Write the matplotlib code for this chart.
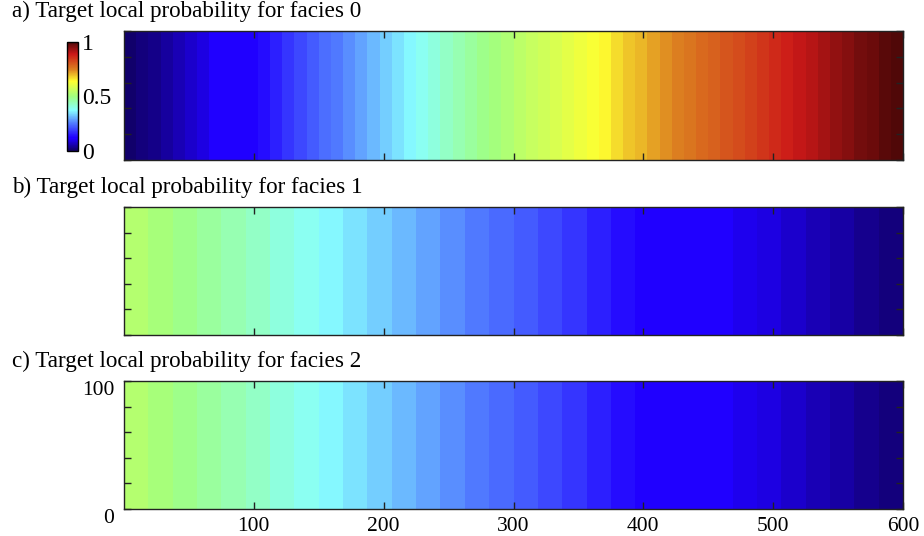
import numpy as np
import matplotlib
matplotlib.use('Agg')
import matplotlib.pyplot as plt
import matplotlib.transforms as mtransforms
from matplotlib.colors import LinearSegmentedColormap

plt.rcParams['font.family'] = ['Liberation Serif', 'DejaVu Serif']

# probability per column band (left to right)
facies0 = [0.01, 0.02, 0.03, 0.045, 0.06, 0.075, 0.09, 0.11, 0.115, 0.12, 0.125, 0.14,
           0.16, 0.18, 0.20, 0.22, 0.24, 0.25, 0.27, 0.29, 0.31, 0.33, 0.35, 0.37,
           0.39, 0.41, 0.43, 0.45, 0.47, 0.49, 0.505, 0.52, 0.54, 0.555, 0.57, 0.585,
           0.60, 0.615, 0.63, 0.645, 0.67, 0.69, 0.70, 0.72, 0.735, 0.75, 0.765, 0.78,
           0.79, 0.805, 0.82, 0.835, 0.85, 0.865, 0.88, 0.895, 0.91, 0.925, 0.94, 0.95,
           0.965, 0.975, 0.99, 1.0]
facies1 = [0.53, 0.51, 0.49, 0.47, 0.45, 0.43, 0.41, 0.39, 0.37, 0.35, 0.33, 0.31,
           0.29, 0.27, 0.25, 0.235, 0.22, 0.20, 0.18, 0.16, 0.14, 0.125, 0.12, 0.115,
           0.11, 0.10, 0.09, 0.075, 0.06, 0.05, 0.035, 0.02]
facies2 = [0.53, 0.51, 0.49, 0.47, 0.45, 0.43, 0.41, 0.39, 0.37, 0.35, 0.33, 0.31,
           0.29, 0.27, 0.25, 0.235, 0.22, 0.20, 0.18, 0.16, 0.14, 0.125, 0.12, 0.115,
           0.11, 0.10, 0.09, 0.075, 0.06, 0.05, 0.035, 0.02]
titles = ['a) Target local probability for facies 0',
          'b) Target local probability for facies 1',
          'c) Target local probability for facies 2']
xmax = 600
ymax = 100

# jet-like map
stops = [(0.0, '#100060'), (0.11, '#2000ff'), (0.125, '#2000ff'), (0.25, '#5078ff'),
         (0.375, '#88ffff'), (0.5, '#a0ff80'), (0.64, '#ffff30'), (0.75, '#dc8020'),
         (0.89, '#cc1818'), (1.0, '#500808')]
cmap = LinearSegmentedColormap.from_list('jetish', stops)

fig = plt.figure(figsize=(9.24, 5.36), dpi=100)
boxes = [[0.1342, 0.7015, 0.8431, 0.2407],
         [0.1342, 0.375, 0.8431, 0.2388],
         [0.1342, 0.0504, 0.8431, 0.2388]]
title_y = [0.978, 0.651, 0.325]

for i, vals in enumerate([facies0, facies1, facies2]):
    ax = fig.add_axes(boxes[i])
    edges = np.linspace(0, xmax, len(vals) + 1)
    z = np.array(vals)[None, :]
    mesh = ax.pcolormesh(edges, [0, ymax], z, cmap=cmap, vmin=0, vmax=1, shading='flat')
    ax.set_xlim(0, xmax)
    ax.set_ylim(0, ymax)
    ax.set_xticks([100, 200, 300, 400, 500, 600])
    ax.set_yticks([0, 20, 40, 60, 80, 100])
    ax.tick_params(direction='in', top=True, right=True, length=5, width=1,
                   labelsize=15.5, color='#222222')
    for s in ax.spines.values():
        s.set_color('#222222')
        s.set_linewidth(1)
    if i < 2:
        ax.set_xticklabels([])
        ax.set_yticklabels([])
    else:
        ax.set_yticklabels(['0', '', '', '', '', '100'])
        ax.tick_params(axis='x', pad=6)
        ax.tick_params(axis='y', pad=7)
        # labels sit a little below their ticks in the original
        shift = mtransforms.ScaledTranslation(0, -0.07, fig.dpi_scale_trans)
        for lab in ax.get_yticklabels():
            lab.set_transform(lab.get_transform() + shift)
    fig.text(0.013, title_y[i], titles[i], fontsize=16.7, ha='left', va='center')
    if i == 0:
        cax = fig.add_axes([0.0725, 0.7183, 0.0119, 0.2034])
        cb = fig.colorbar(mesh, cax=cax, ticks=[0, 0.5, 1])
        cb.ax.set_yticklabels(['0', '0.5', '1'])
        cb.ax.tick_params(length=0, labelsize=17, pad=3)
        cb.outline.set_linewidth(1)

fig.savefig('out.png', dpi=100)
